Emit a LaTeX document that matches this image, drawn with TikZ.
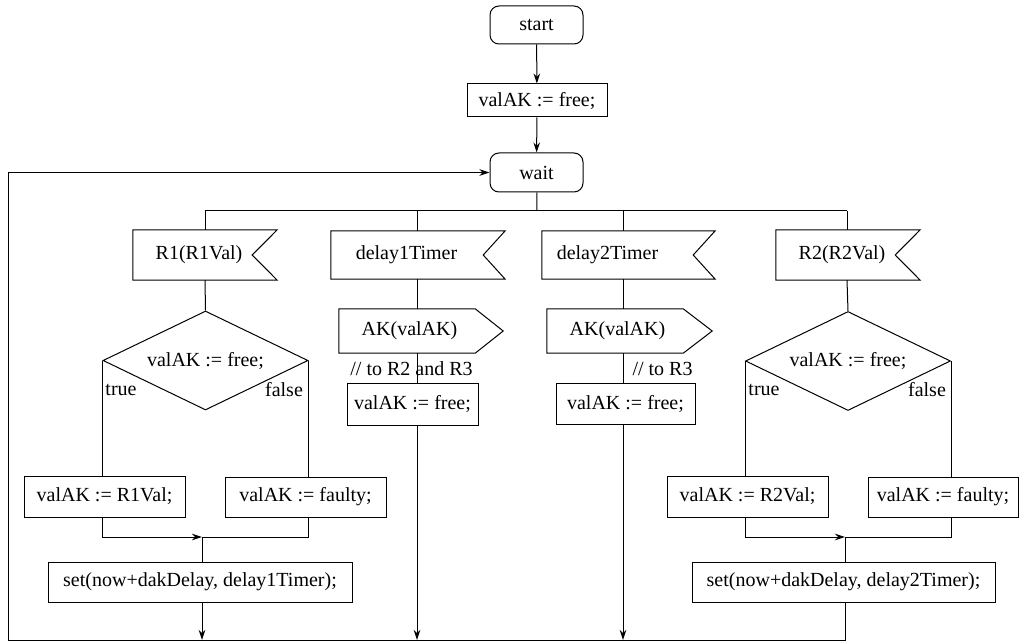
\documentclass[tikz,border=0pt]{standalone}
\usepackage{fontspec}
\setmainfont{Liberation Serif}
\usetikzlibrary{arrows.meta,shapes.geometric}
\begin{document}
\begin{tikzpicture}[x=1pt,y=-1pt,
  every node/.style={font=\fontsize{20}{24}\selectfont, inner sep=0pt},
  line/.style={line width=1pt},
  flow/.style={line, -{Stealth[length=10pt,width=6.5pt]}},
  task/.style={draw, line, rectangle},
  state/.style={task, rounded corners=9pt},
  decide/.style={draw, line, diamond, aspect=2.07, minimum width=205, minimum height=99}
]
\useasboundingbox (0,0) rectangle (1019,644);

% ---- top: start, initialisation, wait ----
\node[state, minimum width=93, minimum height=38] (start) at (536.5,25) {start};
\node[task, minimum width=140, minimum height=33] (init) at (537,100.5) {valAK := free;};
\node[state, minimum width=93, minimum height=39] (wait) at (536.5,172.5) {wait};
\draw[flow] (start) -- (init);
\draw[flow] (init) -- (wait);

% branch columns on the distribution line
\coordinate (split) at (537,211);
\coordinate (t1) at (205,211);
\coordinate (t2) at (417,211);
\coordinate (t3) at (623,211);
\coordinate (t4) at (847,211);
\coordinate (bl) at (8,640);
\draw[line] (wait) -- (split);
\draw[line] (t1) -- (t4);

% ---- input signals (receive symbols) ----
\node[minimum width=144, minimum height=50] (r1) at (205,255) {\hspace*{-12pt}R1(R1Val)};
\draw[line] (r1.north west) -- (r1.north east) -- ([xshift=-25pt]r1.east) -- (r1.south east) -- (r1.south west) -- cycle;
\node[minimum width=174, minimum height=48] (d1) at (418,255) {\hspace*{-23pt}delay1Timer};
\draw[line] (d1.north west) -- (d1.north east) -- ([xshift=-22pt]d1.east) -- (d1.south east) -- (d1.south west) -- cycle;
\node[minimum width=173, minimum height=48] (d2) at (628.5,255) {\hspace*{-42pt}delay2Timer};
\draw[line] (d2.north west) -- (d2.north east) -- ([xshift=-22pt]d2.east) -- (d2.south east) -- (d2.south west) -- cycle;
\node[minimum width=144, minimum height=50] (r2) at (848,255) {\hspace*{-12pt}R2(R2Val)};
\draw[line] (r2.north west) -- (r2.north east) -- ([xshift=-25pt]r2.east) -- (r2.south east) -- (r2.south west) -- cycle;

\draw[line] (t1) -- (t1 |- r1.north);
\draw[line] (t2) -- (t2 |- d1.north);
\draw[line] (t3) -- (t3 |- d2.north);
\draw[line] (t4) -- (t4 |- r2.north);

% ---- branch 1: R1 ----
\node[decide] (q1) at (205.5,360.5) {valAK := free;};
\node (true1) at (121,390) {true};
\node (false1) at (284,390) {false};
\node[task, minimum width=161, minimum height=41] (a1) at (104.5,496.5) {valAK := R1Val;};
\node[task, minimum width=161, minimum height=40] (f1) at (305.5,497) {valAK := faulty;};
\node[task, minimum width=304, minimum height=40] (s1) at (200,582) {set(now+dakDelay, delay1Timer);};
\coordinate (m1) at (202,537);
\draw[line] (t1 |- r1.south) -- (q1.north);
\draw[line] (q1.west) -- (q1.west |- a1.north);
\draw[line] (q1.east) -- (q1.east |- f1.north);
\draw[flow] (q1.west |- a1.south) |- (m1);
\draw[line] (q1.east |- f1.south) |- (m1);
\draw[line] (m1) -- (m1 |- s1.north);
\draw[flow] (m1 |- s1.south) -- (m1 |- bl);

% ---- branch 2: delay1Timer ----
\node[minimum width=136, minimum height=44] (ak1) at (407,331) {\hspace*{5pt}AK(valAK)};
\draw[line] (ak1.north west) -- (ak1.north east) -- ([xshift=28pt]ak1.east) -- (ak1.south east) -- (ak1.south west) -- cycle;
\node (n1) at (411.5,369) {// to R2 and R3};
\node[task, minimum width=131, minimum height=42] (v1) at (412.5,404) {valAK := free;};
\draw[line] (t2 |- d1.south) -- (t2 |- ak1.north);
\draw[line] (t2 |- ak1.south) -- (t2 |- v1.north);
\draw[flow] (t2 |- v1.south) -- (t2 |- bl);

% ---- branch 3: delay2Timer ----
\node[minimum width=136, minimum height=44] (ak2) at (615,331) {\hspace*{5pt}AK(valAK)};
\draw[line] (ak2.north west) -- (ak2.north east) -- ([xshift=29pt]ak2.east) -- (ak2.south east) -- (ak2.south west) -- cycle;
\node (n2) at (662.5,369) {// to R3};
\node[task, minimum width=139, minimum height=41] (v2) at (625.5,403.5) {valAK := free;};
\draw[line] (t3 |- d2.south) -- (t3 |- ak2.north);
\draw[line] (t3 |- ak2.south) -- (t3 |- v2.north);
\draw[flow] (t3 |- v2.south) -- (t3 |- bl);

% ---- branch 4: R2 ----
\node[decide] (q2) at (848,361) {valAK := free;};
\node (true2) at (764,390) {true};
\node (false2) at (927,390) {false};
\node[task, minimum width=161, minimum height=41] (a2) at (747.5,496.5) {valAK := R2Val;};
\node[task, minimum width=150, minimum height=40] (f2) at (943,497) {valAK := faulty;};
\node[task, minimum width=303, minimum height=40] (s2) at (843.5,582) {set(now+dakDelay, delay2Timer);};
\coordinate (m2) at (845,537);
\draw[line] (t4 |- r2.south) -- (q2.north);
\draw[line] (q2.west) -- (q2.west |- a2.north);
\draw[line] (q2.east) -- (q2.east |- f2.north);
\draw[flow] (q2.west |- a2.south) |- (m2);
\draw[line] (q2.east |- f2.south) |- (m2);
\draw[line] (m2) -- (m2 |- s2.north);

% ---- return loop back to wait ----
\draw[flow] (m2 |- s2.south) |- (bl) |- (wait.west);
\end{tikzpicture}
\end{document}
